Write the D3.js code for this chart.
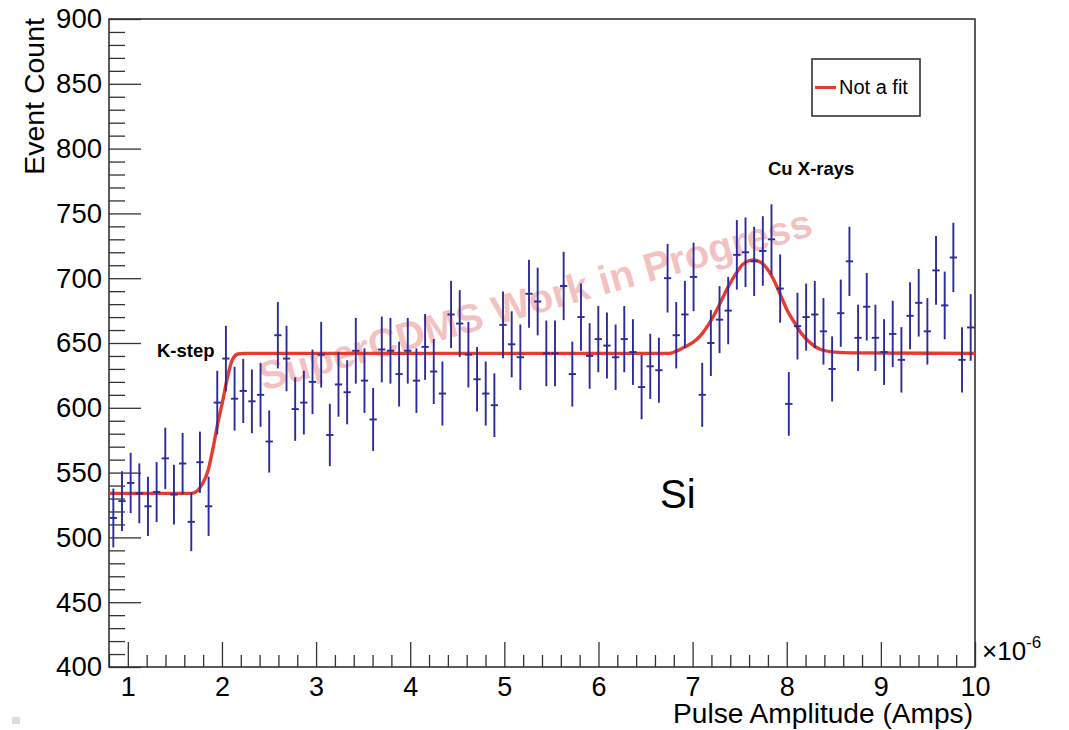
<!DOCTYPE html>
<html>
<head>
<meta charset="utf-8">
<script src="https://cdn.jsdelivr.net/npm/d3@7"></script>
<style>
  body { margin: 0; background: #fff; }
  svg { display: block; font-family: "Liberation Sans", Arial, sans-serif; }
</style>
</head>
<body>
<div id="chart"></div>
<script>
// Canvas size
const width = 1069;
const height = 730;

// Histogram binning (x in units of 1e-6 A)
const xMin = 0.8;
const xMax = 10;
const nBins = 100;

// Event counts per bin
const counts = [
  515, 528, 542, 534, 524, 535, 561, 533, 557, 512,
  558, 524, 604, 638, 607, 613, 605, 610, 574, 656,
  638, 599, 604, 620, 641, 579, 618, 612, 644, 621,
  591, 645, 644, 626, 644, 621, 647, 628, 611, 672,
  665, 641, 622, 611, 602, 664, 649, 639, 688, 682,
  642, 642, 694, 626, 670, 640, 653, 648, 639, 653,
  643, 616, 632, 629, 700, 656, 672, 701, 610, 650,
  668, 675, 718, 720, 713, 721, 730, 692, 603, 663,
  670, 672, 659, 630, 673, 713, 654, 678, 654, 643,
  657, 637, 671, 681, 659, 706, 679, 716, 637, 662
];

// "Not a fit" curve
const curveX = [0.8, 1.68, 1.74, 1.79, 1.85, 1.90, 1.95, 2.01, 2.06, 2.11, 2.17, 2.24,
  6.75, 6.82, 6.93, 7.04, 7.11, 7.18, 7.25, 7.32, 7.39, 7.46, 7.53, 7.60, 7.65,
  7.73, 7.80, 7.87, 7.94, 8.01, 8.08, 8.15, 8.26, 8.36, 8.51, 8.69, 10];
const curveY = [534, 534, 536, 541, 551, 567, 586, 606, 624, 637, 641.5, 642,
  642, 643.5, 647.5, 652.5, 658, 665.5, 674.5, 685, 695, 703.5, 710.5, 713.5, 714,
  712, 706.5, 697.5, 686, 674.5, 666, 658, 649.5, 645, 643, 642.4, 642];

// Tick values
const xMajorTicks = [1, 2, 3, 4, 5, 6, 7, 8, 9, 10];
const yMajorTicks = [400, 450, 500, 550, 600, 650, 700, 750, 800, 850, 900];

const svg = d3.select("#chart")
  .append("svg")
  .attr("width", width)
  .attr("height", height);

// Plot frame
const frameL = 109, frameR = 975, frameT = 19, frameB = 667;

const x = d3.scaleLinear().domain([xMin, xMax]).range([frameL, frameR]);
const y = d3.scaleLinear().domain([400, 900]).range([frameB, frameT]);

const binW = (xMax - xMin) / nBins;
const bins = counts.map((c, i) => ({
  x: xMin + (i + 0.5) * binW,
  c: c,
  e: Math.sqrt(c)
}));

// Minor tick positions
const xMinorTicks = d3.range(0.8, 10.001, 0.2).map(v => +v.toFixed(2))
  .filter(v => Math.abs(v - Math.round(v)) > 1e-6);
const yMinorTicks = d3.range(400, 901, 10).filter(v => v % 50 !== 0);

// Watermark (behind the data)
svg.append("text")
  .attr("transform", "translate(539,313) rotate(-15.8)")
  .attr("text-anchor", "middle")
  .attr("font-size", 40)
  .attr("font-weight", "bold")
  .attr("fill", "rgba(228,90,90,0.38)")
  .text("SuperCDMS Work in Progress");

// Axes, ticks pointing into the frame
const axisColor = "#333";

const xAxis = svg.append("g")
  .attr("transform", `translate(0,${frameB})`)
  .call(d3.axisBottom(x).tickValues(xMajorTicks).tickSizeInner(-25).tickSizeOuter(0)
    .tickPadding(10).tickFormat(d3.format("d")));
xAxis.select(".domain").remove();
xAxis.selectAll("line").attr("stroke", axisColor).attr("stroke-width", 1.3);
xAxis.selectAll("text").attr("font-size", 27).attr("fill", "#000")
  .attr("font-family", "Liberation Sans, Arial, sans-serif");

const xMinor = svg.append("g")
  .attr("transform", `translate(0,${frameB})`)
  .call(d3.axisBottom(x).tickValues(xMinorTicks).tickSizeInner(-12).tickSizeOuter(0).tickFormat(""));
xMinor.select(".domain").remove();
xMinor.selectAll("line").attr("stroke", axisColor).attr("stroke-width", 1.3);

const yAxis = svg.append("g")
  .attr("transform", `translate(${frameL},0)`)
  .call(d3.axisLeft(y).tickValues(yMajorTicks).tickSizeInner(-32).tickSizeOuter(0)
    .tickPadding(7).tickFormat(d3.format("d")));
yAxis.select(".domain").remove();
yAxis.selectAll("line").attr("stroke", axisColor).attr("stroke-width", 1.3);
yAxis.selectAll("text").attr("font-size", 27.5).attr("fill", "#000")
  .attr("font-family", "Liberation Sans, Arial, sans-serif");

const yMinor = svg.append("g")
  .attr("transform", `translate(${frameL},0)`)
  .call(d3.axisLeft(y).tickValues(yMinorTicks).tickSizeInner(-16).tickSizeOuter(0).tickFormat(""));
yMinor.select(".domain").remove();
yMinor.selectAll("line").attr("stroke", axisColor).attr("stroke-width", 1.3);

// Frame
svg.append("rect")
  .attr("x", frameL).attr("y", frameT)
  .attr("width", frameR - frameL).attr("height", frameB - frameT)
  .attr("fill", "none")
  .attr("stroke", axisColor)
  .attr("stroke-width", 1.6);

// Red curve
const line = d3.line()
  .x((d, i) => x(curveX[i]))
  .y(d => y(d))
  .curve(d3.curveMonotoneX);

svg.append("path")
  .attr("d", line(curveY))
  .attr("fill", "none")
  .attr("stroke", "#e63b2e")
  .attr("stroke-width", 3.4);

// Data points with error bars
const blue = "#2b2b9e";
const pts = svg.append("g")
  .attr("stroke", blue)
  .attr("stroke-width", 1.9);

pts.selectAll("line.v")
  .data(bins)
  .join("line")
  .attr("class", "v")
  .attr("x1", d => x(d.x)).attr("x2", d => x(d.x))
  .attr("y1", d => y(d.c - d.e)).attr("y2", d => y(d.c + d.e));

pts.selectAll("line.h")
  .data(bins)
  .join("line")
  .attr("class", "h")
  .attr("x1", d => x(d.x - 0.42 * binW)).attr("x2", d => x(d.x + 0.42 * binW))
  .attr("y1", d => y(d.c)).attr("y2", d => y(d.c));

// Axis titles
svg.append("text")
  .attr("transform", "translate(44,18) rotate(-90)")
  .attr("text-anchor", "end")
  .attr("font-size", 28.5)
  .text("Event Count");

svg.append("text")
  .attr("x", 973).attr("y", 723)
  .attr("text-anchor", "end")
  .attr("font-size", 27)
  .attr("textLength", 300)
  .attr("lengthAdjust", "spacingAndGlyphs")
  .text("Pulse Amplitude (Amps)");

// x10^-6 multiplier
const mult = svg.append("text")
  .attr("x", 982).attr("y", 660)
  .attr("font-size", 26);
mult.append("tspan").text("\u00d710");
mult.append("tspan").attr("dy", -12).attr("font-size", 17).text("-6");

// Annotations
svg.append("text")
  .attr("x", 157).attr("y", 357)
  .attr("font-size", 18.5).attr("font-weight", "bold")
  .text("K-step");

svg.append("text")
  .attr("x", 768).attr("y", 175)
  .attr("font-size", 18.5).attr("font-weight", "bold")
  .text("Cu X-rays");

svg.append("text")
  .attr("x", 660).attr("y", 508)
  .attr("font-size", 40)
  .text("Si");

// Legend
const legend = svg.append("g");
legend.append("rect")
  .attr("x", 812).attr("y", 59)
  .attr("width", 108).attr("height", 57)
  .attr("fill", "#fff")
  .attr("stroke", axisColor)
  .attr("stroke-width", 1.6);
legend.append("line")
  .attr("x1", 815).attr("x2", 836)
  .attr("y1", 87.5).attr("y2", 87.5)
  .attr("stroke", "#e63b2e")
  .attr("stroke-width", 3);
legend.append("text")
  .attr("x", 839).attr("y", 94)
  .attr("font-size", 20)
  .text("Not a fit");

// small crop artefact at bottom-left corner
svg.append("rect")
  .attr("x", 12).attr("y", 717)
  .attr("width", 8).attr("height", 7)
  .attr("fill", "#d3deea");
</script>
</body>
</html>
